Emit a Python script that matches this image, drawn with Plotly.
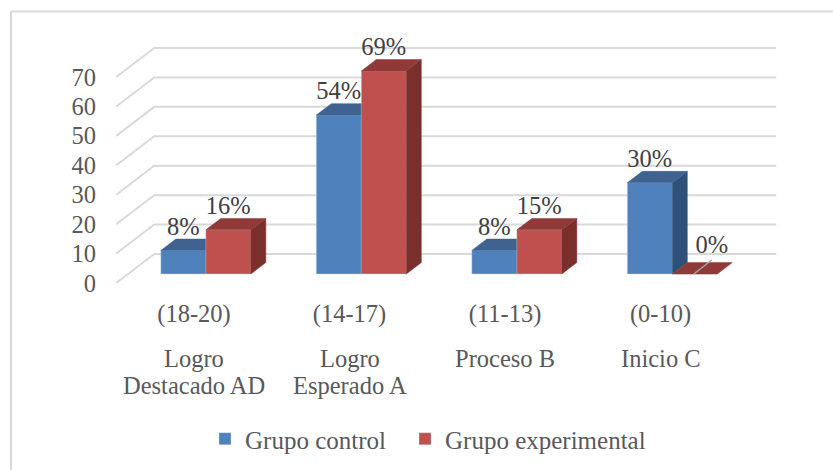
import plotly.graph_objects as go

# Data
range_labels = ["(18-20)", "(14-17)", "(11-13)", "(0-10)"]
level_labels = ["Logro<br>Destacado AD", "Logro<br>Esperado A", "Proceso B", "Inicio C"]
control_values = [8, 54, 8, 31]
experimental_values = [15, 69, 15, 0]
control_labels = ["8%", "54%", "8%", "30%"]
experimental_labels = ["16%", "69%", "15%", "0%"]
y_ticks = [0, 10, 20, 30, 40, 50, 60, 70]

# Pixel layout
W, H = 833, 470
L, R, T, B = 100, 800, 30, 296
PX_X = 155.5
PX_Y = 2.943
X0_PX, Y0_PX = 194, 283
FONT = "Liberation Serif"
FS = 24.5
GRID = "#D9D9D9"
TXT = "#595959"

x_range = [(L - X0_PX) / PX_X, (R - X0_PX) / PX_X]
y_range = [(Y0_PX - B) / PX_Y, (Y0_PX - T) / PX_Y]

wall_dx, wall_dy = 38 / PX_X, 29 / PX_Y
off_dx, off_dy = 11.8 / PX_X, 9 / PX_Y
bar_w = 45 / PX_X
bar_dx, bar_dy = 15 / PX_X, 11.4 / PX_Y
x_left, x_right_back = -0.5, 3.5 + wall_dx


def faces(cx, values):
    """Return side and top polygon coords (None-separated) of 3D bars."""
    sx, sy, tx, ty = [], [], [], []
    for c, v in zip(cx, values):
        x1, x2 = c - bar_w / 2, c + bar_w / 2
        b, t = off_dy, off_dy + v
        if v > 0:
            sx += [x2, x2 + bar_dx, x2 + bar_dx, x2, x2, None]
            sy += [b, b + bar_dy, t + bar_dy, t, b, None]
        tx += [x1, x1 + bar_dx, x2 + bar_dx, x2, x1, None]
        ty += [t, t + bar_dy, t + bar_dy, t, t, None]
    return sx, sy, tx, ty


cats = list(range(len(range_labels)))
cx_control = [c + off_dx - bar_w / 2 for c in cats]
cx_exper = [c + off_dx + bar_w / 2 for c in cats]

fig = go.Figure()


def add_series(name, cx, values, front, top, side, xa, ya, lw):
    fig.add_trace(go.Bar(
        x=cx, y=values, base=[off_dy] * len(values), width=bar_w, name=name, legendwidth=lw,
        marker=dict(color=front, line=dict(color="rgba(215,225,240,0.45)", width=0.8)),
        xaxis=xa, yaxis=ya, hoverinfo="skip"))
    sx, sy, tx, ty = faces(cx, values)
    fig.add_trace(go.Scatter(x=sx, y=sy, mode="lines", fill="toself", fillcolor=side,
                             line=dict(color=side, width=0.5), showlegend=False,
                             xaxis=xa, yaxis=ya, hoverinfo="skip"))
    fig.add_trace(go.Scatter(x=tx, y=ty, mode="lines", fill="toself", fillcolor=top,
                             line=dict(color=top, width=0.5), showlegend=False,
                             xaxis=xa, yaxis=ya, hoverinfo="skip"))


add_series("Grupo control", cx_control, control_values, "#4F81BD", "#3F6291", "#2F5078", "x", "y", 155)
add_series("Grupo experimental", cx_exper, experimental_values, "#C0504D", "#8F3A38", "#7A2F2D", "x2", "y2", 210)

# Data labels
lab_x, lab_y, lab_t = [], [], []
lead_x, lead_y = [], []
for cx, vals, labs in ((cx_control, control_values, control_labels),
                       (cx_exper, experimental_values, experimental_labels)):
    for c, v, s in zip(cx, vals, labs):
        if v == 0:
            lab_x.append(c + 17 / PX_X)
            lab_y.append(off_dy + v + 27 / PX_Y)
            lead_x += [c - 1 / PX_X, c + 17 / PX_X]
            lead_y += [off_dy + v, off_dy + v + 14 / PX_Y]
        else:
            lab_x.append(c)
            lab_y.append(off_dy + v + 22 / PX_Y)
        lab_t.append(s)

fig.add_trace(go.Scatter(x=lead_x, y=lead_y, mode="lines", line=dict(color="#A6A6A6", width=1.5),
                         showlegend=False, xaxis="x2", yaxis="y2", hoverinfo="skip"))
fig.add_trace(go.Scatter(x=lab_x, y=lab_y, text=lab_t, mode="text", textposition="middle center",
                         textfont=dict(family=FONT, size=FS, color="#404040"),
                         showlegend=False, xaxis="x2", yaxis="y2", hoverinfo="skip"))

# Gridlines on floor/wall
shapes = []
for v in y_ticks:
    shapes.append(dict(type="path", layer="below", xref="x", yref="y",
                       path=f"M{x_left},{v} L{x_left + wall_dx},{v + wall_dy} L{x_right_back},{v + wall_dy}",
                       line=dict(color=GRID, width=2)))
# Outer frame
px = lambda p: (p - L) / (R - L)
py = lambda p: (B - p) / (B - T)
shapes.append(dict(type="rect", xref="paper", yref="paper", layer="below",
                   x0=px(11), x1=px(860), y0=py(490), y1=py(11.5),
                   line=dict(color=GRID, width=2), fillcolor="rgba(0,0,0,0)"))

annots = []
for c, t in zip(cats, level_labels):
    for i, line in enumerate(t.split("<br>")):
        annots.append(dict(x=c, xref="x", y=py(358 + 27 * i), yref="paper", yanchor="middle",
                           xanchor="center", text=line, showarrow=False, align="center",
                           font=dict(family=FONT, size=FS, color=TXT)))

ax_common = dict(showgrid=False, zeroline=False, showline=False, fixedrange=True, automargin=False)
fig.update_layout(
    width=W, height=H, autosize=False,
    margin=dict(l=L, r=W - R, t=T, b=H - B, pad=0, autoexpand=False),
    paper_bgcolor="white", plot_bgcolor="white",
    barmode="overlay", shapes=shapes, annotations=annots,
    font=dict(family=FONT, size=FS, color=TXT),
    xaxis=dict(range=x_range, tickmode="array", tickvals=cats, ticktext=range_labels,
               ticks="", tickfont=dict(family=FONT, size=FS, color=TXT), **ax_common),
    yaxis=dict(range=y_range, tickmode="array", tickvals=y_ticks, ticklabelstandoff=3,
               ticks="", tickfont=dict(family=FONT, size=FS, color=TXT), **ax_common),
    xaxis2=dict(range=x_range, overlaying="x", visible=False, **ax_common),
    yaxis2=dict(range=y_range, overlaying="y", visible=False, **ax_common),
    legend=dict(orientation="h", x=px(205), y=py(416), yanchor="top", xanchor="left",
                font=dict(family=FONT, size=25, color=TXT), bgcolor="rgba(0,0,0,0)",
                tracegroupgap=0),
)

fig.write_html("out.html", post_script="document.body.style.margin='0';",
               config=dict(displayModeBar=False))
